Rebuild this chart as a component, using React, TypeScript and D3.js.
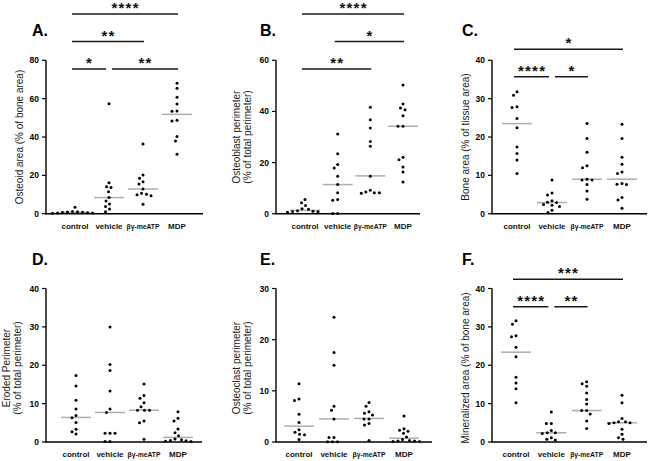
import React from 'react';
import * as d3 from 'd3';

const categories = ['control', 'vehicle', 'βγ-meATP', 'MDP'];

// A. Osteoid area
const osteoidArea = [
  [3.3, 1.2, 1.0, 0.9, 0.8, 0.6, 0.5, 0.4, 0.3, 0.2],
  [57.4, 16.2, 14.1, 13.6, 11.5, 8.5, 6.6, 5.0, 3.8, 2.4, 1.0],
  [36.3, 20.2, 18.5, 16.7, 15.5, 12.9, 10.6, 10.2, 9.9, 9.4, 4.9],
  [68.0, 65.4, 60.7, 57.2, 53.6, 53.4, 48.7, 48.3, 40.2, 37.9, 31.0],
];
const osteoidAreaMedians = [0.7, 8.4, 12.9, 51.8];

// B. Osteoblast perimeter
const osteoblastPerimeter = [
  [5.6, 4.3, 3.2, 1.9, 1.7, 1.2, 1.0, 0.9, 0.8, 0.6],
  [31.2, 23.4, 19.2, 17.9, 14.6, 11.4, 8.2, 5.6, 5.3, 0.1, 0.1],
  [41.6, 36.7, 33.5, 28.2, 26.4, 14.6, 9.2, 8.5, 8.2, 8.2, 8.0],
  [50.3, 42.9, 41.3, 40.7, 38.3, 34.2, 34.2, 22.1, 21.1, 18.3, 16.3, 12.4],
];
const osteoblastPerimeterMedians = [1.3, 11.4, 14.8, 34.2];

// C. Bone area
const boneArea = [
  [31.8, 30.9, 27.9, 27.7, 24.8, 22.4, 17.4, 15.7, 14.0, 10.5],
  [8.8, 5.4, 4.9, 3.4, 3.0, 2.9, 2.4, 2.2, 1.9, 0.9, 0.3],
  [23.5, 19.6, 16.0, 12.5, 12.0, 9.0, 8.8, 8.8, 7.6, 5.9, 3.8],
  [23.3, 19.6, 14.7, 12.9, 10.9, 10.5, 7.9, 7.7, 7.6, 4.2, 3.6, 1.4],
];
const boneAreaMedians = [23.5, 2.9, 9.0, 9.0];

// D. Eroded perimeter
const erodedPerimeter = [
  [17.3, 14.6, 10.9, 8.6, 6.9, 6.3, 5.1, 3.3, 2.7, 2.1],
  [30.0, 20.2, 18.6, 13.3, 8.6, 7.7, 2.3, 2.3, 2.3, 0.1, 0.1],
  [15.1, 12.1, 11.4, 10.2, 9.2, 8.3, 8.3, 8.3, 5.5, 5.0, 0.7],
  [7.9, 6.2, 5.5, 3.4, 2.4, 1.6, 0.8, 0.6, 0.4, 0.3, 0.2, 0.1],
];
const erodedPerimeterMedians = [6.4, 7.7, 8.3, 1.2];

// E. Osteoclast perimeter
const osteoclastPerimeter = [
  [11.4, 8.4, 8.1, 5.4, 3.8, 2.4, 1.9, 1.5, 1.4, 0.5],
  [24.4, 17.5, 15.0, 7.0, 6.2, 4.5, 0.9, 0.9, 0.05, 0.05, 0.05],
  [7.7, 7.0, 5.9, 5.6, 5.3, 4.5, 4.5, 3.6, 3.3, 0.3],
  [5.1, 2.6, 2.3, 2.1, 1.7, 1.0, 0.5, 0.3, 0.2, 0.2, 0.1, 0.1],
];
const osteoclastPerimeterMedians = [3.1, 4.5, 4.6, 0.75];

// F. Mineralized area
const mineralizedArea = [
  [31.6, 30.7, 27.7, 27.4, 24.7, 22.2, 16.9, 15.4, 13.9, 10.2],
  [7.8, 4.8, 4.8, 3.0, 2.4, 2.4, 2.2, 1.1, 0.7, 0.5],
  [15.7, 15.2, 14.5, 12.8, 11.1, 9.9, 8.2, 8.2, 7.3, 5.5, 3.5],
  [12.2, 10.2, 6.1, 5.3, 5.3, 5.0, 5.0, 4.8, 3.3, 2.0, 1.1, 0.7],
];
const mineralizedAreaMedians = [23.4, 2.4, 8.2, 5.0];

const ticksA = [0, 20, 40, 60, 80];
const ticksB = [0, 20, 40, 60];
const ticksC = [0, 10, 20, 30, 40];
const ticksD = [0, 10, 20, 30, 40];
const ticksE = [0, 10, 20, 30];
const ticksF = [0, 10, 20, 30, 40];

type Sig = { from: number; to: number; level: number; label: string };
const sigA: Sig[] = [
  { from: 0, to: 1, level: 0, label: '*' },
  { from: 1, to: 3, level: 0, label: '**' },
  { from: 0, to: 2, level: 1, label: '**' },
  { from: 0, to: 3, level: 2, label: '****' },
];
const sigB: Sig[] = [
  { from: 0, to: 2, level: 0, label: '**' },
  { from: 1, to: 3, level: 1, label: '*' },
  { from: 0, to: 3, level: 2, label: '****' },
];
const sigC: Sig[] = [
  { from: 0, to: 1, level: 0, label: '****' },
  { from: 1, to: 2, level: 0, label: '*' },
  { from: 0, to: 3, level: 1, label: '*' },
];
const sigF: Sig[] = [
  { from: 0, to: 1, level: 0, label: '****' },
  { from: 1, to: 2, level: 0, label: '**' },
  { from: 0, to: 3, level: 1, label: '***' },
];

const ROW1 = { bottom: 213.7, top: 60.3, titleY: 137, letterY: 36 };
const ROW2 = { bottom: 442, top: 288.5, titleY: 368, letterY: 264.5 };

const panels = [
  { letter: 'A', title: ['Osteoid area (% of bone area)'], data: osteoidArea, medians: osteoidAreaMedians, ticks: ticksA, sig: sigA,
    row: ROW1, ax: 46, axEnd: 203, xr: [29, 131], sigBase: 69, letterX: 32 },
  { letter: 'B', title: ['Osteoblast perimeter', '(% of total perimeter)'], data: osteoblastPerimeter, medians: osteoblastPerimeterMedians, ticks: ticksB, sig: sigB,
    row: ROW1, ax: 276, axEnd: 420, xr: [29, 127], sigBase: 69, letterX: 260 },
  { letter: 'C', title: ['Bone area (% of tissue area)'], data: boneArea, medians: boneAreaMedians, ticks: ticksC, sig: sigC,
    row: ROW1, ax: 492, axEnd: 647, xr: [25, 130], sigBase: 76.7, letterX: 462 },
  { letter: 'D', title: ['Eroded Perimeter', '(% of total perimeter)'], data: erodedPerimeter, medians: erodedPerimeterMedians, ticks: ticksD, sig: [] as Sig[],
    row: ROW2, ax: 46, axEnd: 202, xr: [30, 132], sigBase: 0, letterX: 32 },
  { letter: 'E', title: ['Osteoclast perimeter', '(% of total perimeter)'], data: osteoclastPerimeter, medians: osteoclastPerimeterMedians, ticks: ticksE, sig: [] as Sig[],
    row: ROW2, ax: 276, axEnd: 432, xr: [23, 128], sigBase: 0, letterX: 260 },
  { letter: 'F', title: ['Mineralized area (% of bone area)'], data: mineralizedArea, medians: mineralizedAreaMedians, ticks: ticksF, sig: sigF,
    row: ROW2, ax: 492, axEnd: 647, xr: [24, 130], sigBase: 306.7, letterX: 462 },
];

function swarm(ys: number[], minDist: number): number[] {
  const order = ys.map((_, i) => i).sort((a, b) => ys[a] - ys[b]);
  const placed: { x: number; y: number }[] = [];
  const out: number[] = new Array(ys.length).fill(0);
  for (const i of order) {
    const y = ys[i];
    let best = 0;
    for (let k = 0; k < 400; k++) {
      const off = (k % 2 === 0 ? 1 : -1) * Math.ceil(k / 2) * 0.5;
      if (placed.every((p) => (p.x - off) ** 2 + (p.y - y) ** 2 >= minDist * minDist)) {
        best = off;
        break;
      }
    }
    placed.push({ x: best, y });
    out[i] = best;
  }
  return out;
}

const FONT = 'Liberation Sans, Arial, sans-serif';

function Panel({ p }: { p: (typeof panels)[number] }) {
  const yMax = p.ticks[p.ticks.length - 1];
  const y = d3.scaleLinear().domain([0, yMax]).range([p.row.bottom, p.row.top]);
  const x = d3.scalePoint<string>().domain(categories).range([p.ax + p.xr[0], p.ax + p.xr[1]]);
  const cx = (i: number) => x(categories[i]) as number;

  const sigLines = p.sig.map((s) => {
    const sharedEnd = p.sig.some((o) => o !== s && o.level === s.level && o.from === s.to);
    const sharedStart = p.sig.some((o) => o !== s && o.level === s.level && o.to === s.from);
    const x1 = cx(s.from) + (sharedStart ? 3 : -3);
    const x2 = cx(s.to) + (sharedEnd ? -3 : 1);
    const yy = p.sigBase - s.level * 27.5;
    return { ...s, x1, x2, yy };
  });

  return (
    <g>
      <text x={p.letterX} y={p.row.letterY} fontFamily={FONT} fontWeight="bold" fontSize={16} fill="#000">
        {p.letter}.
      </text>
      {p.title.map((t, i) => {
        const n = p.title.length;
        const tx = n === 1 ? p.ax - 27 : p.ax - 40 + i * 11.5;
        return (
          <text key={i} transform={`translate(${tx},${p.row.titleY}) rotate(-90)`} textAnchor="middle" dominantBaseline="central"
            fontFamily={FONT} fontSize={10} fill="#222">
            {t}
          </text>
        );
      })}
      {/* y axis */}
      <line x1={p.ax} x2={p.ax} y1={y(0)} y2={y(yMax)} stroke="#000" strokeWidth={1.4} />
      {p.ticks.map((t) => (
        <g key={t}>
          <line x1={p.ax - 4} x2={p.ax} y1={y(t)} y2={y(t)} stroke="#000" strokeWidth={1.2} />
          <text x={p.ax - 7} y={y(t)} textAnchor="end" dominantBaseline="central" fontFamily={FONT} fontWeight="bold" fontSize={8.5} fill="#000">
            {t}
          </text>
        </g>
      ))}
      {/* x axis */}
      <line x1={p.ax - 0.7} x2={p.axEnd} y1={y(0)} y2={y(0)} stroke="#000" strokeWidth={1.4} />
      {categories.map((c, i) => (
        <text key={c} x={cx(i)} y={p.row.bottom + 15} textAnchor="middle" fontFamily={FONT} fontWeight="bold" fontSize={8} fill="#111"
          textLength={c.length > 6 && c.startsWith('β') ? 33 : undefined} lengthAdjust="spacingAndGlyphs">
          {c}
        </text>
      ))}
      {/* medians */}
      {p.medians.map((m, i) => (
        <line key={i} x1={cx(i) - 15} x2={cx(i) + 15} y1={y(m)} y2={y(m)} stroke="#adadad" strokeWidth={1.5} />
      ))}
      {/* points */}
      {p.data.map((vals, gi) => {
        const ys = vals.map((v) => y(v));
        const offs = swarm(ys, 4.6);
        return vals.map((v, j) => <circle key={`${gi}-${j}`} cx={cx(gi) + offs[j]} cy={ys[j]} r={1.5} fill="#000" />);
      })}
      {/* significance */}
      {sigLines.map((s, i) => (
        <g key={i}>
          <line x1={s.x1} x2={s.x2} y1={s.yy} y2={s.yy} stroke="#1a1a1a" strokeWidth={1.5} />
          <text x={(s.x1 + s.x2) / 2 + 0.6} y={s.yy - 1} textAnchor="middle" fontFamily={FONT} fontWeight="bold" fontSize={15}
            letterSpacing={1.2} fill="#111">
            {s.label}
          </text>
        </g>
      ))}
    </g>
  );
}

export default function App() {
  return (
    <svg width={650} height={461} style={{ position: 'absolute', left: 0, top: 0, background: '#fff' }}>
      <rect width={650} height={461} fill="#fff" />
      {panels.map((p) => (
        <Panel key={p.letter} p={p} />
      ))}
    </svg>
  );
}
